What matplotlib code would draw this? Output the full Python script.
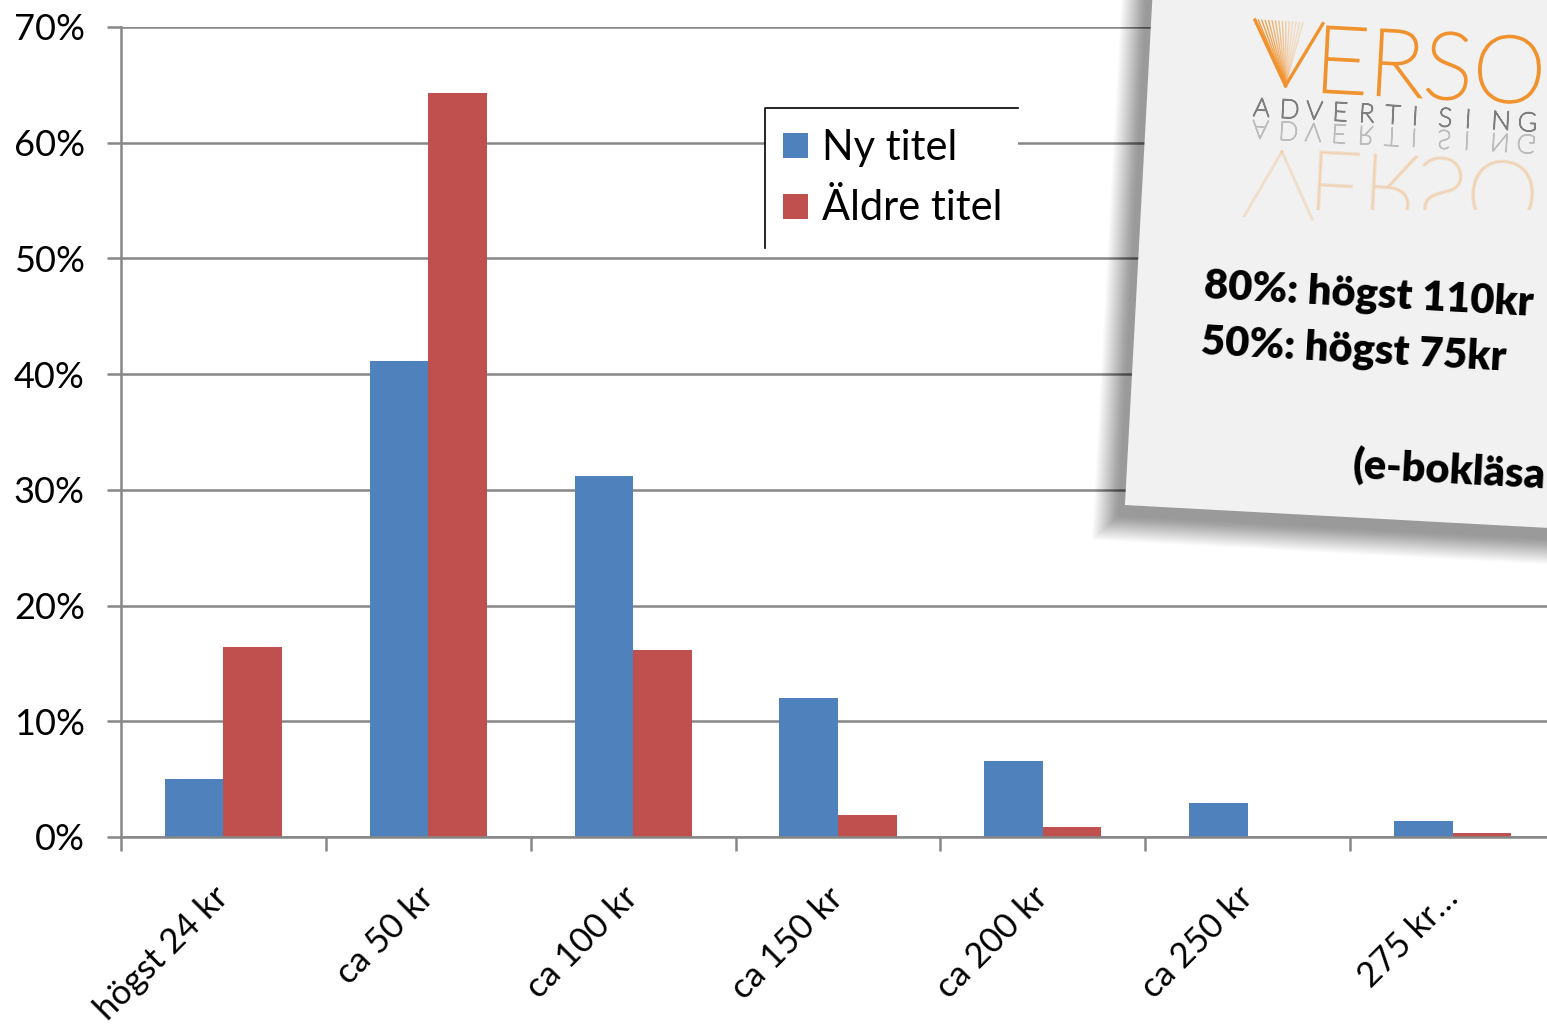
import numpy as np
import matplotlib
matplotlib.use("Agg")
import matplotlib.pyplot as plt
from matplotlib.patches import Polygon, Rectangle, PathPatch
from matplotlib.lines import Line2D
from matplotlib.textpath import TextPath
from matplotlib.font_manager import FontProperties
from matplotlib.transforms import Affine2D
from matplotlib.ticker import PercentFormatter, FixedLocator

# ---------------- data ----------------
categories = ["högst 24 kr", "ca 50 kr", "ca 100 kr", "ca 150 kr",
              "ca 200 kr", "ca 250 kr", "275 kr…"]
ny_titel = [5.0, 41.1, 31.2, 12.0, 6.6, 2.9, 1.4]
aldre_titel = [16.4, 64.3, 16.2, 1.9, 0.9, 0.0, 0.35]
series_names = ["Ny titel", "Äldre titel"]
y_ticks = [0, 10, 20, 30, 40, 50, 60, 70]
card_lines = ["80%: högst 110kr", "50%: högst 75kr", "(e-bokläsa"]
logo_main = "ERSO"
logo_sub = "ADVERTISING"

# ---------------- style ----------------
plt.rcParams['font.family'] = ['Lato', 'DejaVu Sans']
BLUE = '#4F81BD'
RED = '#C0504D'
GRID = '#878787'

W, H = 1547, 1029
fig = plt.figure(figsize=(W / 100, H / 100), dpi=100)
fig.patch.set_facecolor('white')

ax = fig.add_axes([121 / W, (H - 837) / H, (1555 - 121) / W, (837 - 27) / H])
n = len(categories)
idx = np.arange(n)
bw = 1 / 3.5
ax.bar(idx + 0.5 - bw / 2, ny_titel, bw, color=BLUE, linewidth=0, zorder=2)
ax.bar(idx + 0.5 + bw / 2, aldre_titel, bw, color=RED, linewidth=0, zorder=2)

ax.set_xlim(0, n)
ax.set_ylim(0, 70)
ax.yaxis.set_major_locator(FixedLocator(y_ticks))
ax.yaxis.set_major_formatter(PercentFormatter(xmax=100, decimals=0))
ax.grid(axis='y', color=GRID, lw=1.8)
ax.set_axisbelow(True)

ax.set_xticks(np.arange(n + 1))
ax.set_xticklabels([])
ax.set_xticks(idx + 0.5, minor=True)
ax.set_xticklabels(categories, minor=True, rotation=45, ha='right',
                   va='center', rotation_mode='anchor', fontsize=25)
ax.tick_params(axis='x', which='major', length=10, width=1.8, color=GRID,
               direction='out')
ax.tick_params(axis='x', which='minor', length=0, pad=40)
ax.tick_params(axis='y', length=10, width=1.8, color=GRID, direction='out',
               labelsize=26, pad=16)
for s in ['top', 'right']:
    ax.spines[s].set_visible(False)
for s in ['left', 'bottom']:
    ax.spines[s].set_color(GRID)
    ax.spines[s].set_linewidth(1.8)

# legend box (white with left/top border)
ax.add_artist(Rectangle((765 / W, 1 - 248 / H), 253 / W, 140 / H,
                        transform=fig.transFigure, facecolor='white',
                        edgecolor='none', zorder=4, clip_on=False))
ax.add_artist(Line2D([765 / W, 765 / W, 1018 / W],
                     [1 - 248 / H, 1 - 108 / H, 1 - 108 / H],
                     transform=fig.transFigure, color='black', lw=1.2,
                     zorder=4, clip_on=False))
handles = [Line2D([], [], marker='s', linestyle='none', markersize=18,
                  markerfacecolor=c, markeredgewidth=0) for c in (BLUE, RED)]
leg = ax.legend(handles, series_names, loc='center left',
                bbox_to_anchor=(782 / W, 1 - 178 / H),
                bbox_transform=fig.transFigure, frameon=False, fontsize=30,
                handlelength=0.6, handletextpad=0.36, labelspacing=0.55,
                borderpad=0, borderaxespad=0)
leg.set_zorder(5)

# ---------------- overlay card ----------------
ov = fig.add_axes([0, 0, 1, 1], zorder=10)
ov.set_xlim(0, W)
ov.set_ylim(H, 0)
ov.axis('off')
ov.patch.set_alpha(0)

theta = 3.1
th = np.deg2rad(theta)
c, s = np.cos(th), np.sin(th)


def rot_rect(cx, cy, w, h):
    pts = np.array([[-w / 2, -h / 2], [w / 2, -h / 2], [w / 2, h / 2], [-w / 2, h / 2]])
    R = np.array([[c, -s], [s, c]])
    return pts @ R.T + np.array([cx, cy])


Wc, Hc = 620, 700
ccx, ccy = 1453.4, 172.3
# soft shadow
N = 36
for i in range(N):
    g = 26 * (1 - i / N) - 6
    ov.add_patch(Polygon(rot_rect(ccx - 12, ccy + 16, Wc + 2 * g, Hc + 2 * g),
                         closed=True, facecolor='black', edgecolor='none',
                         alpha=0.013))
ov.add_patch(Polygon(rot_rect(ccx, ccy, Wc, Hc), closed=True,
                     facecolor='#F1F1F1', edgecolor='none'))

# card text
kw = dict(rotation=-theta, rotation_mode='anchor', ha='left', va='baseline',
          fontsize=30, fontweight='heavy', color='black')
ov.text(1203, 298, card_lines[0], **kw)
ov.text(1200, 354, card_lines[1], **kw)
ov.text(1352, 478, card_lines[2], **kw)

# logo
px, py = 1255, 20
rot = Affine2D().rotate_deg_around(px, py, theta)
ORANGE = '#F0922E'
fp_light = FontProperties(family='Lato', weight='light')


def put_text(txt, x, y, size, color, alpha=1.0, mirror=False, clip=None, lw=1.5):
    tp = TextPath((0, 0), txt, size=size, prop=fp_light)
    sy = 1 if mirror else -1
    tr = Affine2D().scale(1, sy).translate(x, y) + rot + ov.transData
    p = PathPatch(tp, transform=tr, facecolor=color, edgecolor=color,
                  linewidth=lw, alpha=alpha)
    ov.add_patch(p)
    if clip is not None:
        p.set_clip_path(clip)
    return p


# V as a fan of thin lines
apex = (px + 34, py + 64)
fan = np.linspace(0, 48, 15)
for k, xt in enumerate(fan):
    pts = rot.transform(np.array([[apex[0], apex[1]], [px + xt, py]]))
    ov.plot(pts[:, 0], pts[:, 1], color=ORANGE, lw=2.4 if k == 0 else 1.0,
            alpha=1.0 if k == 0 else max(0.25, 1 - k / len(fan)))
pts = rot.transform(np.array([[apex[0], apex[1]], [px + 68, py]]))
ov.plot(pts[:, 0], pts[:, 1], color=ORANGE, lw=2.4)
put_text(logo_main, px + 62, py + 68, 93, ORANGE, lw=1.9)
# reflection of VERSO
clipbox = Rectangle((1240, 148), 320, 62, transform=ov.transData)
put_text(logo_main, px + 62, py + 128, 93, ORANGE, alpha=0.2, mirror=True,
         clip=clipbox, lw=1.9)
for xe in (px, px + 68):
    pts = rot.transform(np.array([[apex[0], py + 130], [xe, py + 196]]))
    ov.plot(pts[:, 0], pts[:, 1], color=ORANGE, lw=2.0, alpha=0.2)

for j, ch in enumerate(logo_sub):
    x = px + 3 + j * 26.5
    put_text(ch, x, py + 96, 26, '#7F7F7F', lw=1.1)
    put_text(ch, x, py + 100, 26, '#BDBDBD', mirror=True, lw=1.0)

fig.savefig('out.png', dpi=100)
